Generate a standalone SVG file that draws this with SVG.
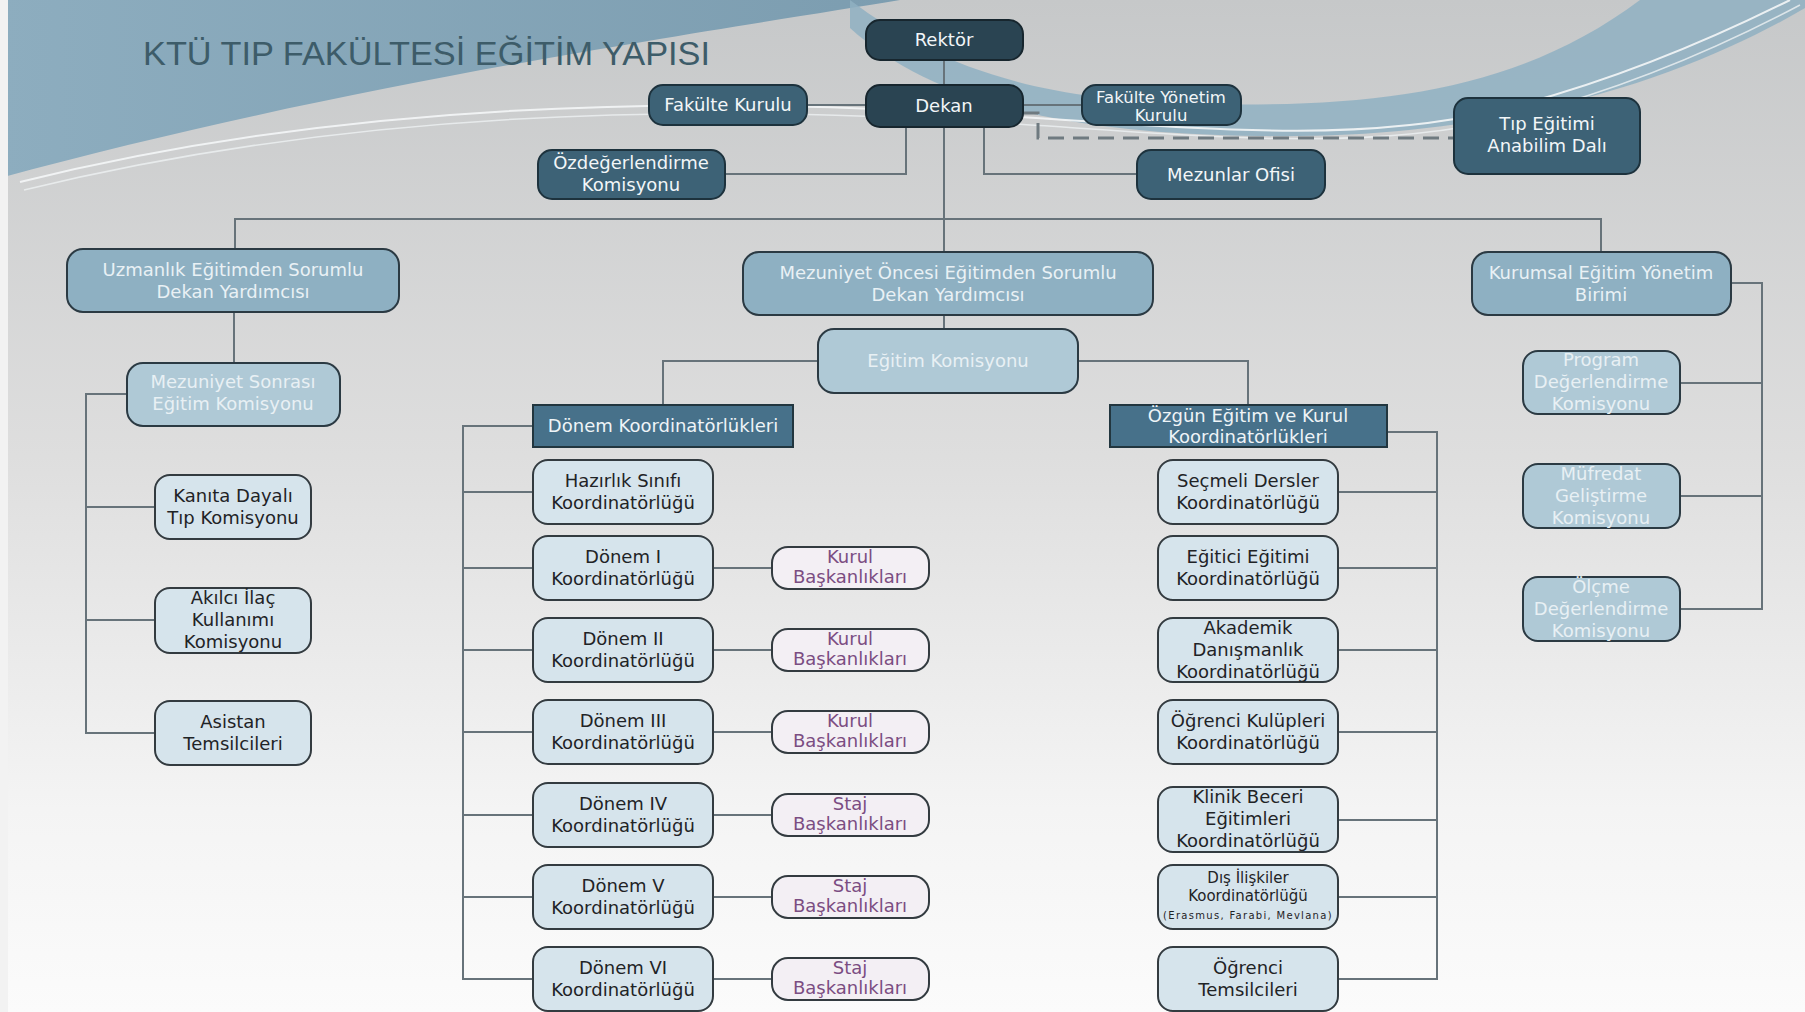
<svg xmlns="http://www.w3.org/2000/svg" width="1805" height="1012" viewBox="0 0 1805 1012">
<defs>
<linearGradient id="bg" x1="0" y1="0" x2="0" y2="1">
<stop offset="0" stop-color="#c6c8c9"/>
<stop offset="0.45" stop-color="#dedede"/>
<stop offset="0.8" stop-color="#f4f4f4"/>
<stop offset="1" stop-color="#fbfbfb"/>
</linearGradient>
<linearGradient id="blueTL" x1="0" y1="0" x2="1" y2="0">
<stop offset="0" stop-color="#8dadbf"/>
<stop offset="1" stop-color="#7c9db0"/>
</linearGradient>
<style>
text{font-family:"DejaVu Sans","Liberation Sans",sans-serif;font-size:18px;text-anchor:middle}
.ln{fill:none;stroke:#67737a;stroke-width:2}
.dash{fill:none;stroke:#6f7a80;stroke-width:3;stroke-dasharray:16 9}
.dk rect{fill:#2a4452;stroke:#17262e;stroke-width:2}
.md rect{fill:#3d6276;stroke:#1d323d;stroke-width:2}
.dk text,.md text{fill:#f2f6f8}
.bl rect{fill:#8eb0c2;stroke:#2b3a43;stroke-width:2}
.bl text{fill:#e9f1f5}
.lb rect{fill:#afc9d6;stroke:#2b3a43;stroke-width:2}
.lb text{fill:#e8f0f4}
.hd rect{fill:#47718a;stroke:#22363f;stroke-width:2}
.hd text{fill:#eef4f7}
.li rect{fill:#d6e4ec;stroke:#333b40;stroke-width:2}
.li text{fill:#1f2326}
.kb rect{fill:#f3eff4;stroke:#333b40;stroke-width:2}
.kb text{fill:#7b4d82}
</style>
</defs>

<!-- background scene -->
<rect x="0" y="0" width="1805" height="1012" fill="url(#bg)"/>
<path d="M0,0 H900 C720,30 360,80 0,178 Z" fill="url(#blueTL)"/>
<path d="M850,0 C930,60 1020,100 1200,104 C1380,108 1520,90 1640,0 L1805,0 L1805,8 C1700,70 1520,140 1260,136 C1060,134 930,100 850,28 Z" fill="#8fb0c2" opacity="0.85"/>
<path d="M20,182 C300,112 600,96 900,110 C1150,122 1330,150 1500,110 C1620,80 1720,35 1790,0" fill="none" stroke="#f4f6f7" stroke-width="2" opacity="0.9"/>
<path d="M24,190 C310,120 610,104 910,118 C1160,130 1340,158 1510,118 C1630,88 1730,42 1800,5" fill="none" stroke="#eef1f3" stroke-width="1.5" opacity="0.8"/>
<rect x="0" y="0" width="8" height="1012" fill="#f2f2f2"/>

<text x="143" y="65" style="font-family:'Liberation Sans',sans-serif;font-size:34px;text-anchor:start;fill:#3d5c69" textLength="567" lengthAdjust="spacingAndGlyphs">KTÜ TIP FAKÜLTESİ EĞİTİM YAPISI</text>

<g id="connectors">
<path class="ln" d="M944,60 V85"/>
<path class="ln" d="M807,105 H866"/>
<path class="ln" d="M1023,105 H1082"/>
<path class="ln" d="M906,127 V174 H725"/>
<path class="ln" d="M984,127 V174 H1137"/>
<path class="dash" d="M1023,113 H1038 V138 H1454"/>
<path class="ln" d="M944,127 V252"/>
<path class="ln" d="M235,249 V219 H1601 V252"/>
<path class="ln" d="M234,312 V363"/>
<path class="ln" d="M127,394 H86 V733 H155 M86,507 H155 M86,620 H155"/>
<path class="ln" d="M944,315 V329"/>
<path class="ln" d="M818,361 H663 V405"/>
<path class="ln" d="M1078,361 H1248 V405"/>
<path class="ln" d="M1731,283 H1762 V609 H1680 M1762,383 H1680 M1762,496 H1680"/>
<path class="ln" d="M533,426 H463 V979 H533 M463,492 H533 M463,568 H533 M463,650 H533 M463,732 H533 M463,815 H533 M463,897 H533"/>
<path class="ln" d="M713,568 H772 M713,650 H772 M713,732 H772 M713,815 H772 M713,897 H772 M713,979 H772"/>
<path class="ln" d="M1387,432 H1437 V979 H1338 M1437,492 H1338 M1437,568 H1338 M1437,650 H1338 M1437,732 H1338 M1437,820 H1338 M1437,897 H1338"/>
</g>

<g id="rektor" class="dk"><rect x="866" y="20" width="157" height="40" rx="14"/><text x="944" y="46">Rektör</text></g>
<g id="dekan" class="dk"><rect x="866" y="85" width="157" height="42" rx="14"/><text x="944" y="112">Dekan</text></g>
<g id="fakulte-kurulu" class="md"><rect x="649" y="85" width="158" height="40" rx="14"/><text x="728" y="111">Fakülte Kurulu</text></g>
<g id="fakulte-yonetim-kurulu" class="md"><rect x="1082" y="85" width="159" height="40" rx="14"/><text x="1161" y="103" style="font-size:16.5px">Fakülte Yönetim</text><text x="1161" y="121" style="font-size:16.5px">Kurulu</text></g>
<g id="ozdegerlendirme" class="md"><rect x="538" y="150" width="187" height="49" rx="14"/><text x="631" y="169">Özdeğerlendirme</text><text x="631" y="191">Komisyonu</text></g>
<g id="mezunlar-ofisi" class="md"><rect x="1137" y="150" width="188" height="49" rx="14"/><text x="1231" y="181">Mezunlar Ofisi</text></g>
<g id="tip-egitimi-ad" class="md"><rect x="1454" y="98" width="186" height="76" rx="14"/><text x="1547" y="130">Tıp Eğitimi</text><text x="1547" y="152">Anabilim Dalı</text></g>

<g id="uzmanlik-dy" class="bl"><rect x="67" y="249" width="332" height="63" rx="16"/><text x="233" y="276">Uzmanlık Eğitimden Sorumlu</text><text x="233" y="298">Dekan Yardımcısı</text></g>
<g id="mezuniyet-oncesi-dy" class="bl"><rect x="743" y="252" width="410" height="63" rx="16"/><text x="948" y="279">Mezuniyet Öncesi Eğitimden Sorumlu</text><text x="948" y="301">Dekan Yardımcısı</text></g>
<g id="kurumsal" class="bl"><rect x="1472" y="252" width="259" height="63" rx="16"/><text x="1601" y="279">Kurumsal Eğitim Yönetim</text><text x="1601" y="301">Birimi</text></g>

<g id="mezuniyet-sonrasi-ek" class="lb"><rect x="127" y="363" width="213" height="63" rx="16"/><text x="233" y="388">Mezuniyet Sonrası</text><text x="233" y="410">Eğitim Komisyonu</text></g>
<g id="egitim-komisyonu" class="lb"><rect x="818" y="329" width="260" height="64" rx="16"/><text x="948" y="367">Eğitim Komisyonu</text></g>
<g id="program-degerlendirme" class="lb"><rect x="1523" y="351" width="157" height="63" rx="15"/><text x="1601" y="366">Program</text><text x="1601" y="388">Değerlendirme</text><text x="1601" y="410">Komisyonu</text></g>
<g id="mufredat-gelistirme" class="lb"><rect x="1523" y="464" width="157" height="64" rx="15"/><text x="1601" y="480">Müfredat</text><text x="1601" y="502">Geliştirme</text><text x="1601" y="524">Komisyonu</text></g>
<g id="olcme-degerlendirme" class="lb"><rect x="1523" y="577" width="157" height="64" rx="15"/><text x="1601" y="593">Ölçme</text><text x="1601" y="615">Değerlendirme</text><text x="1601" y="637">Komisyonu</text></g>

<g id="kanita-dayali" class="li"><rect x="155" y="475" width="156" height="64" rx="15"/><text x="233" y="502">Kanıta Dayalı</text><text x="233" y="524">Tıp Komisyonu</text></g>
<g id="akilci-ilac" class="li"><rect x="155" y="588" width="156" height="65" rx="15"/><text x="233" y="604">Akılcı İlaç</text><text x="233" y="626">Kullanımı</text><text x="233" y="648">Komisyonu</text></g>
<g id="asistan-temsilcileri" class="li"><rect x="155" y="701" width="156" height="64" rx="15"/><text x="233" y="728">Asistan</text><text x="233" y="750">Temsilcileri</text></g>

<g id="donem-koordinatorlukleri" class="hd"><rect x="533" y="405" width="260" height="42"/><text x="663" y="432">Dönem Koordinatörlükleri</text></g>
<g id="ozgun-egitim" class="hd"><rect x="1110" y="405" width="277" height="42"/><text x="1248" y="422">Özgün Eğitim ve Kurul</text><text x="1248" y="443">Koordinatörlükleri</text></g>

<g id="hazirlik" class="li"><rect x="533" y="460" width="180" height="64" rx="15"/><text x="623" y="487">Hazırlık Sınıfı</text><text x="623" y="509">Koordinatörlüğü</text></g>
<g id="donem-1" class="li"><rect x="533" y="536" width="180" height="64" rx="15"/><text x="623" y="563">Dönem I</text><text x="623" y="585">Koordinatörlüğü</text></g>
<g id="donem-2" class="li"><rect x="533" y="618" width="180" height="64" rx="15"/><text x="623" y="645">Dönem II</text><text x="623" y="667">Koordinatörlüğü</text></g>
<g id="donem-3" class="li"><rect x="533" y="700" width="180" height="64" rx="15"/><text x="623" y="727">Dönem III</text><text x="623" y="749">Koordinatörlüğü</text></g>
<g id="donem-4" class="li"><rect x="533" y="783" width="180" height="64" rx="15"/><text x="623" y="810">Dönem IV</text><text x="623" y="832">Koordinatörlüğü</text></g>
<g id="donem-5" class="li"><rect x="533" y="865" width="180" height="64" rx="15"/><text x="623" y="892">Dönem V</text><text x="623" y="914">Koordinatörlüğü</text></g>
<g id="donem-6" class="li"><rect x="533" y="947" width="180" height="64" rx="15"/><text x="623" y="974">Dönem VI</text><text x="623" y="996">Koordinatörlüğü</text></g>

<g id="kurul-1" class="kb"><rect x="772" y="547" width="157" height="42" rx="16"/><text x="850" y="563">Kurul</text><text x="850" y="583">Başkanlıkları</text></g>
<g id="kurul-2" class="kb"><rect x="772" y="629" width="157" height="42" rx="16"/><text x="850" y="645">Kurul</text><text x="850" y="665">Başkanlıkları</text></g>
<g id="kurul-3" class="kb"><rect x="772" y="711" width="157" height="42" rx="16"/><text x="850" y="727">Kurul</text><text x="850" y="747">Başkanlıkları</text></g>
<g id="staj-4" class="kb"><rect x="772" y="794" width="157" height="42" rx="16"/><text x="850" y="810">Staj</text><text x="850" y="830">Başkanlıkları</text></g>
<g id="staj-5" class="kb"><rect x="772" y="876" width="157" height="42" rx="16"/><text x="850" y="892">Staj</text><text x="850" y="912">Başkanlıkları</text></g>
<g id="staj-6" class="kb"><rect x="772" y="958" width="157" height="42" rx="16"/><text x="850" y="974">Staj</text><text x="850" y="994">Başkanlıkları</text></g>

<g id="secmeli-dersler" class="li"><rect x="1158" y="460" width="180" height="64" rx="15"/><text x="1248" y="487">Seçmeli Dersler</text><text x="1248" y="509">Koordinatörlüğü</text></g>
<g id="egitici-egitimi" class="li"><rect x="1158" y="536" width="180" height="64" rx="15"/><text x="1248" y="563">Eğitici Eğitimi</text><text x="1248" y="585">Koordinatörlüğü</text></g>
<g id="akademik-danismanlik" class="li"><rect x="1158" y="618" width="180" height="64" rx="15"/><text x="1248" y="634">Akademik</text><text x="1248" y="656">Danışmanlık</text><text x="1248" y="678">Koordinatörlüğü</text></g>
<g id="ogrenci-kulupleri" class="li"><rect x="1158" y="700" width="180" height="64" rx="15"/><text x="1248" y="727">Öğrenci Kulüpleri</text><text x="1248" y="749">Koordinatörlüğü</text></g>
<g id="klinik-beceri" class="li"><rect x="1158" y="787" width="180" height="65" rx="15"/><text x="1248" y="803">Klinik Beceri</text><text x="1248" y="825">Eğitimleri</text><text x="1248" y="847">Koordinatörlüğü</text></g>
<g id="dis-iliskiler" class="li"><rect x="1158" y="865" width="180" height="64" rx="15"/><text x="1248" y="883" style="font-size:15px">Dış İlişkiler</text><text x="1248" y="901" style="font-size:15px">Koordinatörlüğü</text><text x="1248" y="919" style="font-size:10px;letter-spacing:1.3px">(Erasmus, Farabi, Mevlana)</text></g>
<g id="ogrenci-temsilcileri" class="li"><rect x="1158" y="947" width="180" height="64" rx="15"/><text x="1248" y="974">Öğrenci</text><text x="1248" y="996">Temsilcileri</text></g>
</svg>
